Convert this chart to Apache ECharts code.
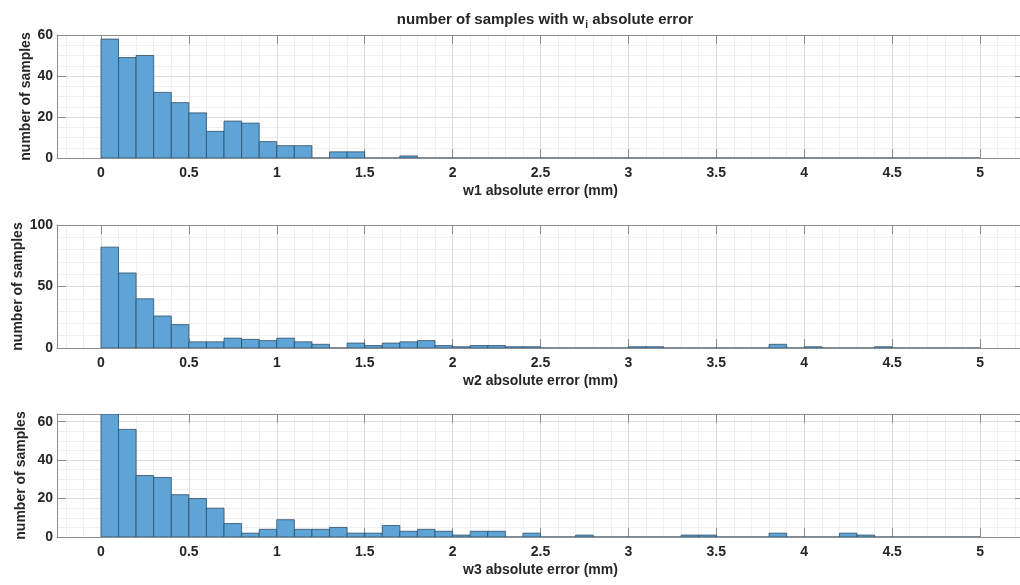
<!DOCTYPE html>
<html>
<head>
<meta charset="utf-8">
<script src="https://cdn.jsdelivr.net/npm/echarts@6/dist/echarts.min.js"></script>
<style>
  html, body { margin: 0; padding: 0; background: #ffffff; }
  #chart { width: 1020px; height: 585px; }
</style>
</head>
<body>
<div id="chart"></div>
<script>
// Histogram bin edges (mm), 0.1 mm wide bins from 0 to 5
const binEdges = [
  0, 0.1, 0.2, 0.3, 0.4, 0.5, 0.6, 0.7, 0.8, 0.9,
  1, 1.1, 1.2, 1.3, 1.4, 1.5, 1.6, 1.7, 1.8, 1.9,
  2, 2.1, 2.2, 2.3, 2.4, 2.5, 2.6, 2.7, 2.8, 2.9,
  3, 3.1, 3.2, 3.3, 3.4, 3.5, 3.6, 3.7, 3.8, 3.9,
  4, 4.1, 4.2, 4.3, 4.4, 4.5, 4.6, 4.7, 4.8, 4.9, 5
];

// Sample counts per bin
const w1Counts = [
  58, 49, 50, 32, 27, 22, 13, 18, 17, 8,
  6, 6, 0, 3, 3, 0, 0, 1, 0, 0,
  0, 0, 0, 0, 0, 0, 0, 0, 0, 0,
  0, 0, 0, 0, 0, 0, 0, 0, 0, 0,
  0, 0, 0, 0, 0, 0, 0, 0, 0, 0
];
const w2Counts = [
  82, 61, 40, 26, 19, 5, 5, 8, 7, 6,
  8, 5, 3, 0, 4, 2, 4, 5, 6, 2,
  1, 2, 2, 1, 1, 0, 0, 0, 0, 0,
  1, 1, 0, 0, 0, 0, 0, 0, 3, 0,
  1, 0, 0, 0, 1, 0, 0, 0, 0, 0
];
const w3Counts = [
  64, 56, 32, 31, 22, 20, 15, 7, 2, 4,
  9, 4, 4, 5, 2, 2, 6, 3, 4, 3,
  1, 3, 3, 0, 2, 0, 0, 1, 0, 0,
  0, 0, 0, 1, 1, 0, 0, 0, 2, 0,
  0, 0, 2, 1, 0, 0, 0, 0, 0, 0
];

// Axis ticks and texts
const xTickValues = [0, 0.5, 1, 1.5, 2, 2.5, 3, 3.5, 4, 4.5, 5];
const yTickValues = [[0, 20, 40, 60], [0, 50, 100], [0, 20, 40, 60]];
const yMinorStep = [5, 10, 5];
const yLimits = [60, 100, 64];
const xLimits = [-0.25, 5.25];
const xMinorStep = 0.1;
const xAxisTitles = ['w1 absolute error (mm)', 'w2 absolute error (mm)', 'w3 absolute error (mm)'];
const yAxisTitle = 'number of samples';
const allCounts = [w1Counts, w2Counts, w3Counts];

const FONT = '"Liberation Sans", Arial, Helvetica, sans-serif';
const AXIS_GRAY = '#8c8c8c';
const TEXT = '#262626';
const MAJOR_GRID = '#dcdcdc';
const MINOR_GRID = '#efefef';
const BAR_FILL = '#5ea4d6';
const BAR_EDGE = '#2e4d66';

const panelTops = [35, 225, 414];
const panelHeight = 123;
const plotLeft = 57;
const plotWidth = 967;
const yNameGaps = [24, 32, 29];

// minor grid positions between the major ticks
function minorValues(lo, hi, step, majors) {
  const out = [];
  const n0 = Math.ceil(lo / step - 1e-9), n1 = Math.floor(hi / step + 1e-9);
  for (let n = n0; n <= n1; n++) {
    const v = Math.round(n * step * 1000) / 1000;
    if (majors.indexOf(v) < 0) out.push(v);
  }
  return out;
}

const grids = [], xAxes = [], yAxes = [], series = [];

allCounts.forEach((counts, p) => {
  grids.push({
    left: plotLeft, width: plotWidth, top: panelTops[p], height: panelHeight,
    show: false, containLabel: false, outerBoundsMode: 'none'
  });

  const xMinor = minorValues(xLimits[0], xLimits[1], xMinorStep, xTickValues);
  const yMinor = minorValues(0, yLimits[p], yMinorStep[p], yTickValues[p]);

  const base = p * 3;

  // x: minor grid axis, main labelled axis, top box axis
  xAxes.push({
    gridIndex: p, type: 'value', min: xLimits[0], max: xLimits[1], position: 'bottom', z: 0,
    axisLine: { show: false },
    axisTick: { show: false, customValues: xMinor },
    axisLabel: { show: false, customValues: xMinor },
    splitLine: { show: true, lineStyle: { color: MINOR_GRID, width: 1 } }
  });
  xAxes.push({
    gridIndex: p, type: 'value', min: xLimits[0], max: xLimits[1], position: 'bottom', z: 2,
    name: xAxisTitles[p], nameLocation: 'middle', nameGap: 26,
    nameTextStyle: { fontFamily: FONT, fontWeight: 'bold', fontSize: 14, color: TEXT },
    axisLine: { show: true, onZero: false, lineStyle: { color: AXIS_GRAY, width: 1 } },
    axisTick: { show: true, inside: true, length: 9, customValues: xTickValues, lineStyle: { color: AXIS_GRAY } },
    axisLabel: { show: true, margin: 8, customValues: xTickValues, fontFamily: FONT, fontWeight: 'bold', fontSize: 14, color: TEXT },
    splitLine: { show: true, lineStyle: { color: MAJOR_GRID, width: 1 } }
  });
  xAxes.push({
    gridIndex: p, type: 'value', min: xLimits[0], max: xLimits[1], position: 'top', z: 2,
    axisLine: { show: true, onZero: false, lineStyle: { color: AXIS_GRAY, width: 1 } },
    axisTick: { show: true, inside: true, length: 9, customValues: xTickValues, lineStyle: { color: AXIS_GRAY } },
    axisLabel: { show: false, customValues: xTickValues },
    splitLine: { show: false }
  });

  // y: minor grid axis, main labelled axis, right box axis
  yAxes.push({
    gridIndex: p, type: 'value', min: 0, max: yLimits[p], position: 'left', z: 0,
    axisLine: { show: false },
    axisTick: { show: false, customValues: yMinor },
    axisLabel: { show: false, customValues: yMinor },
    splitLine: { show: true, lineStyle: { color: MINOR_GRID, width: 1 } }
  });
  yAxes.push({
    gridIndex: p, type: 'value', min: 0, max: yLimits[p], position: 'left', z: 2,
    name: yAxisTitle, nameLocation: 'middle', nameGap: yNameGaps[p], nameRotate: 90,
    nameMoveOverlap: false,
    nameTextStyle: { fontFamily: FONT, fontWeight: 'bold', fontSize: 14, color: TEXT },
    axisLine: { show: true, onZero: false, lineStyle: { color: AXIS_GRAY, width: 1 } },
    axisTick: { show: true, inside: true, length: 9, customValues: yTickValues[p], lineStyle: { color: AXIS_GRAY } },
    axisLabel: { show: true, margin: 4, customValues: yTickValues[p], fontFamily: FONT, fontWeight: 'bold', fontSize: 14, color: TEXT },
    splitLine: { show: true, lineStyle: { color: MAJOR_GRID, width: 1 } }
  });
  yAxes.push({
    gridIndex: p, type: 'value', min: 0, max: yLimits[p], position: 'right', z: 2,
    axisLine: { show: true, onZero: false, lineStyle: { color: AXIS_GRAY, width: 1 } },
    axisTick: { show: true, inside: true, length: 9, customValues: yTickValues[p], lineStyle: { color: AXIS_GRAY } },
    axisLabel: { show: false, customValues: yTickValues[p] },
    splitLine: { show: false }
  });

  // one rectangle per histogram bin
  const data = counts.map((c, i) => [binEdges[i], binEdges[i + 1], c]);
  series.push({
    type: 'custom',
    xAxisIndex: base + 1,
    yAxisIndex: base + 1,
    clip: true,
    z: 3,
    data: data,
    encode: { x: [0, 1], y: 2 },
    renderItem: function (params, api) {
      const topLeft = api.coord([api.value(0), api.value(2)]);
      const bottomRight = api.coord([api.value(1), 0]);
      return {
        type: 'rect',
        shape: {
          x: topLeft[0],
          y: topLeft[1],
          width: bottomRight[0] - topLeft[0],
          height: bottomRight[1] - topLeft[1]
        },
        style: { fill: BAR_FILL, stroke: BAR_EDGE, lineWidth: 0.8 }
      };
    }
  });
});

const chart = echarts.init(document.getElementById('chart'), null, { renderer: 'canvas' });
chart.setOption({
  animation: false,
  backgroundColor: '#ffffff',
  title: {
    text: '{a|number of samples with w}{s|i}{a| absolute error}',
    left: 540,
    top: 7,
    textAlign: 'center',
    textStyle: {
      rich: {
        a: { fontFamily: FONT, fontWeight: 'bold', fontSize: 15, color: TEXT, verticalAlign: 'top', lineHeight: 17 },
        s: { fontFamily: FONT, fontWeight: 'bold', fontSize: 10, color: TEXT, verticalAlign: 'top', lineHeight: 12, padding: [8, 0, 0, 1] }
      }
    }
  },
  grid: grids,
  xAxis: xAxes,
  yAxis: yAxes,
  series: series
});
</script>
</body>
</html>
